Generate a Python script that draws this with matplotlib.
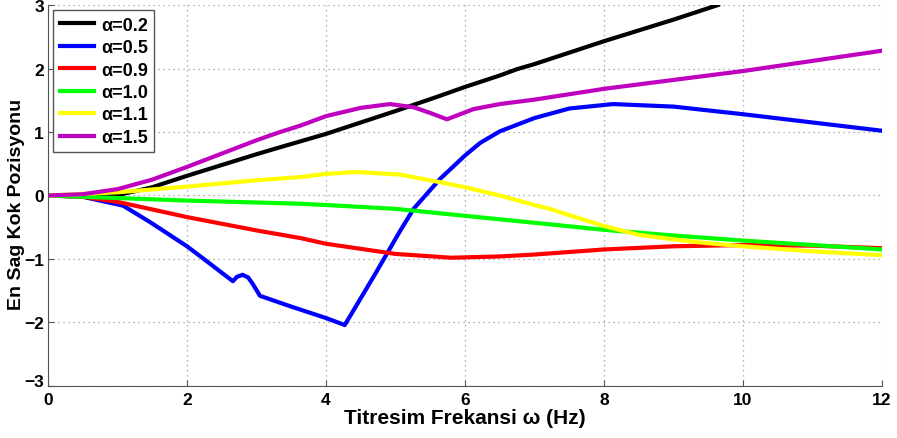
import numpy as np
from matplotlib import pyplot as plt
from matplotlib import transforms

# root-locus style traces, one per alpha value
alpha_labels = ['0.2', '0.5', '0.9', '1.0', '1.1', '1.5']
line_colors = ['#000000', '#0000ff', '#ff0000', '#00ff00', '#ffff00', '#bf00bf']

x_02 = [0, 0.5, 1.0, 1.5, 2.0, 3.0, 3.34, 4.0, 5.0, 5.64, 6.0, 6.5, 6.75, 7.0, 8.0, 9.0, 9.64]
y_02 = [0, 0.0, 0.005, 0.13, 0.31, 0.65, 0.76, 0.97, 1.33, 1.57, 1.71, 1.89, 1.99, 2.07, 2.43, 2.77, 3.0]

x_05 = [0, 0.5, 1.08, 1.47, 2.0, 2.23, 2.66, 2.72, 2.8, 2.88, 2.95, 3.05, 3.5, 4.0, 4.27, 4.7,
        5.06, 5.26, 5.64, 6.0, 6.22, 6.5, 7.0, 7.5, 8.13, 9.0, 10.0, 11.0, 12.0]
y_05 = [0, -0.02, -0.16, -0.42, -0.80, -0.99, -1.35, -1.28, -1.25, -1.29, -1.40, -1.58, -1.75, -1.93, -2.04, -1.25,
        -0.57, -0.21, 0.26, 0.63, 0.83, 1.01, 1.22, 1.37, 1.44, 1.40, 1.28, 1.15, 1.02]

x_09 = [0, 0.5, 1.0, 2.0, 3.0, 3.63, 4.0, 5.0, 5.8, 6.5, 7.0, 8.0, 9.0, 10.0, 11.0, 12.0]
y_09 = [0, -0.02, -0.1, -0.34, -0.55, -0.67, -0.76, -0.92, -0.98, -0.96, -0.93, -0.85, -0.8, -0.78, -0.79, -0.83]

x_10 = [0, 1.0, 2.0, 3.0, 3.63, 4.0, 5.0, 6.0, 7.0, 8.0, 9.0, 10.0, 11.0, 12.0]
y_10 = [0, -0.04, -0.08, -0.11, -0.13, -0.15, -0.21, -0.32, -0.43, -0.54, -0.63, -0.71, -0.78, -0.85]

x_11 = [0, 1.0, 2.0, 3.0, 3.63, 4.0, 4.44, 5.06, 5.64, 6.0, 6.5, 7.0, 7.22, 7.5, 8.0, 8.5, 9.0, 9.38, 10.0, 11.0, 12.0]
y_11 = [0, 0.05, 0.14, 0.24, 0.29, 0.34, 0.37, 0.33, 0.21, 0.13, 0.0, -0.15, -0.21, -0.31, -0.48, -0.62, -0.69, -0.74, -0.8, -0.88, -0.94]

x_15 = [0, 0.5, 1.0, 1.5, 2.0, 3.0, 3.34, 3.63, 4.0, 4.5, 4.92, 5.26, 5.5, 5.74, 6.12, 6.5, 7.0, 8.0, 9.0, 10.0, 11.0, 12.0]
y_15 = [0, 0.02, 0.1, 0.25, 0.45, 0.87, 1.0, 1.1, 1.25, 1.38, 1.44, 1.39, 1.3, 1.2, 1.36, 1.44, 1.51, 1.68, 1.82, 1.96, 2.12, 2.28]

series_x = [x_02, x_05, x_09, x_10, x_11, x_15]
series_y = [y_02, y_05, y_09, y_10, y_11, y_15]

plt.rcParams['font.family'] = ['Liberation Sans', 'DejaVu Sans']
plt.rcParams['font.weight'] = 'bold'

fig = plt.figure(figsize=(8.97, 4.39), dpi=100)
ax = fig.add_axes([0.0535, 0.1185, 0.9298, 0.8678])

for xs, ys, lab, col in zip(series_x, series_y, alpha_labels, line_colors):
    ax.plot(xs, ys, color=col, lw=3, label=f'\u03b1={lab}', solid_joinstyle='round')

ax.set_xlim(0, 12)
ax.set_ylim(-3, 3)
ax.set_xticks(np.arange(0, 13, 2))
ax.set_yticks(np.arange(-3, 4, 1))
ax.grid(True, linestyle=(0, (1, 3)), color='#999999', lw=0.9)
for side in ('top', 'right'):
    ax.spines[side].set_visible(False)
for side in ('left', 'bottom'):
    ax.spines[side].set_color('#555555')
ax.tick_params(direction='in', length=4, color='#555555', labelsize=12.5)
ax.tick_params(axis='x', pad=4)
ax.tick_params(axis='y', pad=3)
for lbl in ax.get_xticklabels() + ax.get_yticklabels():
    lbl.set_fontweight('bold')

# lift the bottom y label a little so it clears the x origin label
bottom_lbl = ax.get_yticklabels()[0]
bottom_lbl.set_transform(bottom_lbl.get_transform() +
                         transforms.ScaledTranslation(0, 4 / 72, fig.dpi_scale_trans))

ax.set_xlabel('Titresim Frekansi \u03c9 (Hz)', fontsize=15, fontweight='bold', labelpad=1)
ax.set_ylabel('En Sag Kok Pozisyonu', fontsize=14, fontweight='bold')
ax.yaxis.set_label_coords(-0.028, 0.48)

leg = ax.legend(loc='upper left', fontsize=13, handlelength=1.9, handletextpad=0.4,
                labelspacing=0.3, borderpad=0.35, fancybox=False, framealpha=1,
                borderaxespad=0.3)
leg.get_frame().set_edgecolor('#555555')
leg.get_frame().set_linewidth(1.0)
for t in leg.get_texts():
    t.set_fontweight('bold')

fig.savefig('out.png', dpi=100)
